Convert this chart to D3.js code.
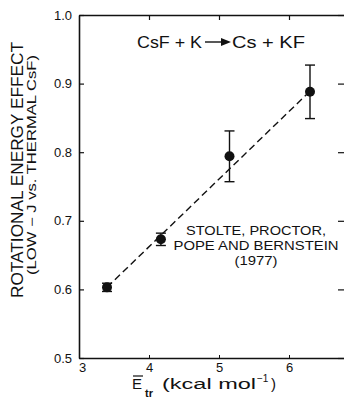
<!DOCTYPE html>
<html>
<head>
<meta charset="utf-8">
<script src="https://cdn.jsdelivr.net/npm/d3@7"></script>
<style>
  body { margin: 0; background: #fff; }
  svg { display: block; }
  text { font-family: "Liberation Sans", Arial, sans-serif; fill: #111; }
</style>
</head>
<body>
<main></main>
<script>
// data
const energy = [3.4, 4.17, 5.15, 6.3];
const effect = [0.603, 0.673, 0.794, 0.888];
const errors = [0.006, 0.009, 0.037, 0.039];
const fitX = [3.4, 6.25];
const fitY = [0.603, 0.884];
const xTicks = [3, 4, 5, 6];
const yTicks = [0.5, 0.6, 0.7, 0.8, 0.9, 1.0];
const yTickLabels = ["0.5", "0.6", "0.7", "0.8", "0.9", "1.0"];

const W = 344, H = 399;
const svg = d3.select("main").append("svg")
  .attr("width", W).attr("height", H).attr("viewBox", `0 0 ${W} ${H}`);

const scaleX = d3.scaleLinear().domain([3, 6.8]).range([79, 345]);
const scaleY = d3.scaleLinear().domain([0.5, 1.0]).range([358, 15]);

const g = svg.append("g");

const axisStyle = sel => sel.select(".domain").attr("stroke", "#111").attr("stroke-width", 1.6);
const tickFont = a => a.selectAll(".tick text").style("font-size", "13px")
  .style("font-family", "'Liberation Sans', Arial, sans-serif").attr("fill", "#111");

g.append("g").attr("transform", `translate(${scaleX.range()[0]},0)`)
  .call(d3.axisLeft(scaleY).tickValues(yTicks).tickSize(-5).tickFormat((d, i) => yTickLabels[i]).tickPadding(7).tickSizeOuter(0))
  .call(axisStyle)
  .call(a => a.selectAll(".tick line").attr("stroke", "#111").attr("stroke-width", 1.2))
  .call(tickFont);

g.append("g").attr("transform", `translate(${scaleX.range()[1]},0)`)
  .call(d3.axisRight(scaleY).tickValues(yTicks).tickSize(-7).tickFormat("").tickSizeOuter(0))
  .call(axisStyle)
  .call(a => a.selectAll(".tick line").attr("stroke", "#111").attr("stroke-width", 1.2));

g.append("g").attr("transform", `translate(0,${scaleY.range()[0]})`)
  .call(d3.axisBottom(scaleX).tickValues(xTicks).tickSize(-3).tickPadding(5).tickFormat(d3.format("d")).tickSizeOuter(0))
  .call(axisStyle)
  .call(a => a.selectAll(".tick line").attr("stroke", "#111").attr("stroke-width", 1))
  .call(a => a.selectAll(".tick").filter(d => d === 3).select("text").attr("dx", 3))
  .call(tickFont);

g.append("g").attr("transform", `translate(0,${scaleY.range()[1]})`)
  .call(d3.axisTop(scaleX).tickValues([4, 5, 6]).tickSize(-5).tickFormat("").tickSizeOuter(0))
  .call(axisStyle)
  .call(a => a.selectAll(".tick line").attr("stroke", "#111").attr("stroke-width", 1.2));

// dashed fit line
const fit = fitX.map((x, i) => ({ x, y: fitY[i] }));
const line = d3.line().x(d => scaleX(d.x)).y(d => scaleY(d.y));
g.append("path").datum(fit)
  .attr("fill", "none").attr("stroke", "#111").attr("stroke-width", 1.4)
  .attr("stroke-dasharray", "7,4").attr("d", line);

// error bars + points
const pts = energy.map((x, i) => ({ x, y: effect[i], e: errors[i] }));
const eb = g.append("g").attr("stroke", "#111").attr("stroke-width", 1.4);
eb.selectAll("line.v").data(pts).join("line").attr("class", "v")
  .attr("x1", d => scaleX(d.x)).attr("x2", d => scaleX(d.x))
  .attr("y1", d => scaleY(d.y - d.e)).attr("y2", d => scaleY(d.y + d.e));
eb.selectAll("line.t").data(pts).join("line").attr("class", "t")
  .attr("x1", d => scaleX(d.x) - 5).attr("x2", d => scaleX(d.x) + 5)
  .attr("y1", d => scaleY(d.y + d.e)).attr("y2", d => scaleY(d.y + d.e));
eb.selectAll("line.b").data(pts).join("line").attr("class", "b")
  .attr("x1", d => scaleX(d.x) - 5).attr("x2", d => scaleX(d.x) + 5)
  .attr("y1", d => scaleY(d.y - d.e)).attr("y2", d => scaleY(d.y - d.e));
g.append("g").selectAll("circle").data(pts).join("circle")
  .attr("cx", d => scaleX(d.x)).attr("cy", d => scaleY(d.y)).attr("r", 5).attr("fill", "#111");

// stretch text to the widths measured on the figure
const fitText = (sel, len) => sel.attr("textLength", len).attr("lengthAdjust", "spacingAndGlyphs");

// reaction label
const ry = 48;
g.append("text").attr("x", 137).attr("y", ry).style("font-size", "16.5px").call(fitText, 65).text("CsF + K");
g.append("line").attr("x1", 205).attr("x2", 224).attr("y1", ry - 6).attr("y2", ry - 6)
  .attr("stroke", "#111").attr("stroke-width", 1.4);
g.append("path").attr("d", `M${221},${ry - 10} L${231},${ry - 6} L${221},${ry - 2} Z`).attr("fill", "#111");
g.append("text").attr("x", 232).attr("y", ry).style("font-size", "16.5px").call(fitText, 73).text("Cs + KF");

// citation
const citeLines = ["STOLTE, PROCTOR,", "POPE AND BERNSTEIN", "(1977)"];
const citeLen = [140, 165, 43];
g.append("g").selectAll("text").data(citeLines).join("text")
  .attr("x", 256).attr("y", (d, i) => 235 + i * 15).attr("text-anchor", "middle")
  .style("font-size", "13px").attr("textLength", (d, i) => citeLen[i]).attr("lengthAdjust", "spacingAndGlyphs")
  .text(d => d);

// y axis titles
g.append("text").attr("transform", "translate(23,170) rotate(-90)").attr("text-anchor", "middle")
  .style("font-size", "16px").call(fitText, 256).text("ROTATIONAL ENERGY EFFECT");
g.append("text").attr("transform", "translate(36,165) rotate(-90)").attr("text-anchor", "middle")
  .style("font-size", "12px").call(fitText, 220).text("(LOW \u2212 J  vs.  THERMAL  CsF)");

// x axis title
g.append("text").attr("x", 132).attr("y", 389).style("font-size", "15px").text("E");
g.append("line").attr("x1", 133).attr("x2", 143).attr("y1", 376).attr("y2", 376).attr("stroke", "#111").attr("stroke-width", 1.2);
g.append("text").attr("x", 145).attr("y", 397).style("font-size", "11px").style("font-weight", "bold").text("tr");
g.append("text").attr("x", 162).attr("y", 389).style("font-size", "15.5px").call(fitText, 94).text("(kcal mol");
g.append("text").attr("x", 257).attr("y", 382).style("font-size", "10px").text("\u22121");
g.append("text").attr("x", 271).attr("y", 389).style("font-size", "15px").text(")");
</script>
</body>
</html>
